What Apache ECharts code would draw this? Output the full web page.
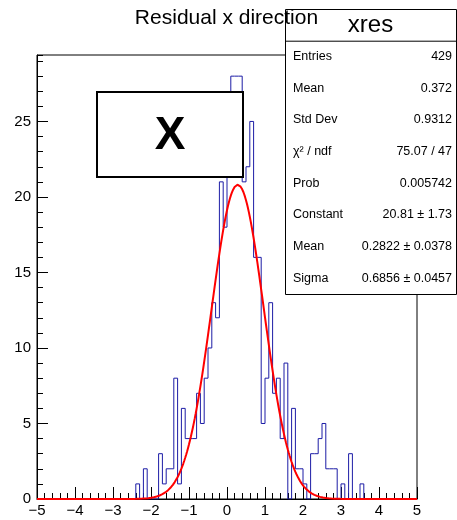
<!DOCTYPE html>
<html>
<head>
<meta charset="utf-8">
<script src="https://cdn.jsdelivr.net/npm/echarts@6/dist/echarts.min.js"></script>
<style>
  html, body { margin: 0; padding: 0; background: #fff; }
  #chart { width: 457px; height: 520px; }
</style>
</head>
<body>
<div id="chart"></div>
<script>
// Histogram "xres": 100 bins of width 0.1 spanning [-5, 5]
const histMin = -5;
const histMax = 5;
const binWidth = 0.1;
const binCounts = [
  0, 0, 0, 0, 0, 0, 0, 0, 0, 0,        // -5 .. -4
  0, 0, 0, 0, 0, 0, 0, 0, 0, 0,        // -4 .. -3
  0, 0, 0, 0, 0, 0, 1, 0, 2, 0,        // -3 .. -2
  0, 0, 3, 1, 2, 2, 8, 1, 6, 4,        // -2 .. -1
  4, 4, 7, 5, 8, 10, 13, 12, 21, 18,   // -1 .. 0
  22, 28, 28, 28, 21, 22, 25, 16, 16, 5, // 0 .. 1
  8, 13, 7, 8, 4, 9, 0, 6, 2, 2,       // 1 .. 2
  1, 0, 3, 3, 4, 5, 2, 2, 2, 0,        // 2 .. 3
  1, 0, 3, 0, 0, 1, 0, 0, 0, 0,        // 3 .. 4
  0, 0, 0, 0, 0, 0, 0, 0, 0, 0         // 4 .. 5
];

// Gaussian fit result
const fitConstant = 20.81;
const fitMean = 0.2822;
const fitSigma = 0.6856;

// Axis ranges
const yMax = 29.4;
const xTickStep = 1;
const yTickStep = 5;

// Titles and statistics box
const chartTitle = 'Residual x direction';
const statsName = 'xres';
const statsLabels = ['Entries', 'Mean', 'Std Dev', 'χ² / ndf', 'Prob', 'Constant', 'Mean', 'Sigma'];
const statsValues = ['429', '0.372', '0.9312', '75.07 / 47', '0.005742', '20.81 ± 1.73', '0.2822 ± 0.0378', '0.6856 ± 0.0457'];
const markerText = 'X';

// Outline of the histogram: one point at each bin's low edge, stepping at the next edge
const histPoints = binCounts.map((c, i) => [histMin + i * binWidth, c]);
histPoints.push([histMax, binCounts[binCounts.length - 1]]);

// Fit function sampled across the axis range
const fitPoints = [];
const nSamples = 400;
for (let i = 0; i <= nSamples; i++) {
  const x = histMin + (histMax - histMin) * i / nSamples;
  const z = (x - fitMean) / fitSigma;
  fitPoints.push([x, fitConstant * Math.exp(-0.5 * z * z)]);
}

const FONT = '"Liberation Sans", Arial, Helvetica, sans-serif';
const minus = v => String(v).replace('-', '\u2212');

// Statistics box geometry
const box = { x: 285, y: 9, w: 171, h: 285, head: 31.7 };
const rowH = (box.h - box.head) / statsLabels.length;

const graphics = [];
graphics.push({
  type: 'rect', z: 100,
  shape: { x: box.x + 0.5, y: box.y + 0.5, width: box.w, height: box.h },
  style: { fill: '#fff', stroke: '#000', lineWidth: 1 }
});
graphics.push({
  type: 'line', z: 101,
  shape: { x1: box.x, y1: box.y + box.head + 0.5, x2: box.x + box.w, y2: box.y + box.head + 0.5 },
  style: { stroke: '#000', lineWidth: 1 }
});
graphics.push({
  type: 'text', z: 102,
  style: {
    text: statsName, x: box.x + box.w / 2, y: box.y + box.head / 2 + 1,
    align: 'center', verticalAlign: 'middle',
    font: '24px ' + FONT, fill: '#000'
  }
});
statsLabels.forEach((lab, i) => {
  const cy = box.y + box.head + rowH * (i + 0.5);
  graphics.push({
    type: 'text', z: 102,
    style: { text: lab, x: box.x + 8, y: cy, align: 'left', verticalAlign: 'middle', font: '12.5px ' + FONT, fill: '#000' }
  });
  graphics.push({
    type: 'text', z: 102,
    style: { text: statsValues[i], x: box.x + box.w - 4, y: cy, align: 'right', verticalAlign: 'middle', font: '12.5px ' + FONT, fill: '#000' }
  });
});
// Marker panel
graphics.push({
  type: 'rect', z: 100,
  shape: { x: 97, y: 92, width: 146, height: 85 },
  style: { fill: '#fff', stroke: '#000', lineWidth: 2 }
});
graphics.push({
  type: 'text', z: 101,
  style: { text: markerText, x: 170, y: 136, align: 'center', verticalAlign: 'middle', font: 'bold 46px ' + FONT, fill: '#000' }
});
// Title (drawn above the statistics box)
graphics.push({
  type: 'text', z: 120,
  style: { text: chartTitle, x: 226.5, y: 18, align: 'center', verticalAlign: 'middle', font: '21px ' + FONT, fill: '#000' }
});

const chart = echarts.init(document.getElementById('chart'), null, { renderer: 'canvas' });
chart.setOption({
  animation: false,
  backgroundColor: '#fff',
  grid: {
    left: 37, right: 40, top: 55, bottom: 21,
    show: true, borderColor: '#000', borderWidth: 1, backgroundColor: 'transparent'
  },
  xAxis: {
    type: 'value', min: histMin, max: histMax, interval: xTickStep,
    axisLine: { show: true, onZero: false, lineStyle: { color: '#000', width: 1 } },
    axisTick: { show: true, inside: true, length: 12, lineStyle: { color: '#000' } },
    minorTick: { show: true, splitNumber: 5, length: 6, lineStyle: { color: '#000' } },
    splitLine: { show: false },
    axisLabel: { color: '#000', fontSize: 15, fontFamily: FONT, margin: 4, formatter: minus }
  },
  yAxis: [
    {
      type: 'value', min: 0, max: yMax, interval: yTickStep, position: 'left',
      axisLine: { show: true, onZero: false, lineStyle: { color: '#000', width: 1 } },
      axisTick: { show: true, inside: true, length: 11, lineStyle: { color: '#000' } },
      splitLine: { show: false },
      axisLabel: { color: '#000', fontSize: 15, fontFamily: FONT, margin: 6, showMaxLabel: false }
    },
    {
      type: 'value', min: 0, max: yMax, interval: 1, position: 'left', offset: 0,
      axisLine: { show: false, onZero: false },
      axisTick: { show: true, inside: true, length: 6, lineStyle: { color: '#000' } },
      splitLine: { show: false },
      axisLabel: { show: false }
    }
  ],
  series: [
    {
      name: statsName, type: 'line', step: 'end', data: histPoints,
      yAxisIndex: 0, showSymbol: false, symbol: 'none',
      lineStyle: { color: '#1c1ca6', width: 1 }, z: 3
    },
    {
      name: 'gaus', type: 'line', data: fitPoints,
      yAxisIndex: 0, showSymbol: false, symbol: 'none', smooth: false,
      lineStyle: { color: '#ff0000', width: 2 }, z: 4
    }
  ],
  graphic: { elements: graphics }
});
</script>
</body>
</html>
